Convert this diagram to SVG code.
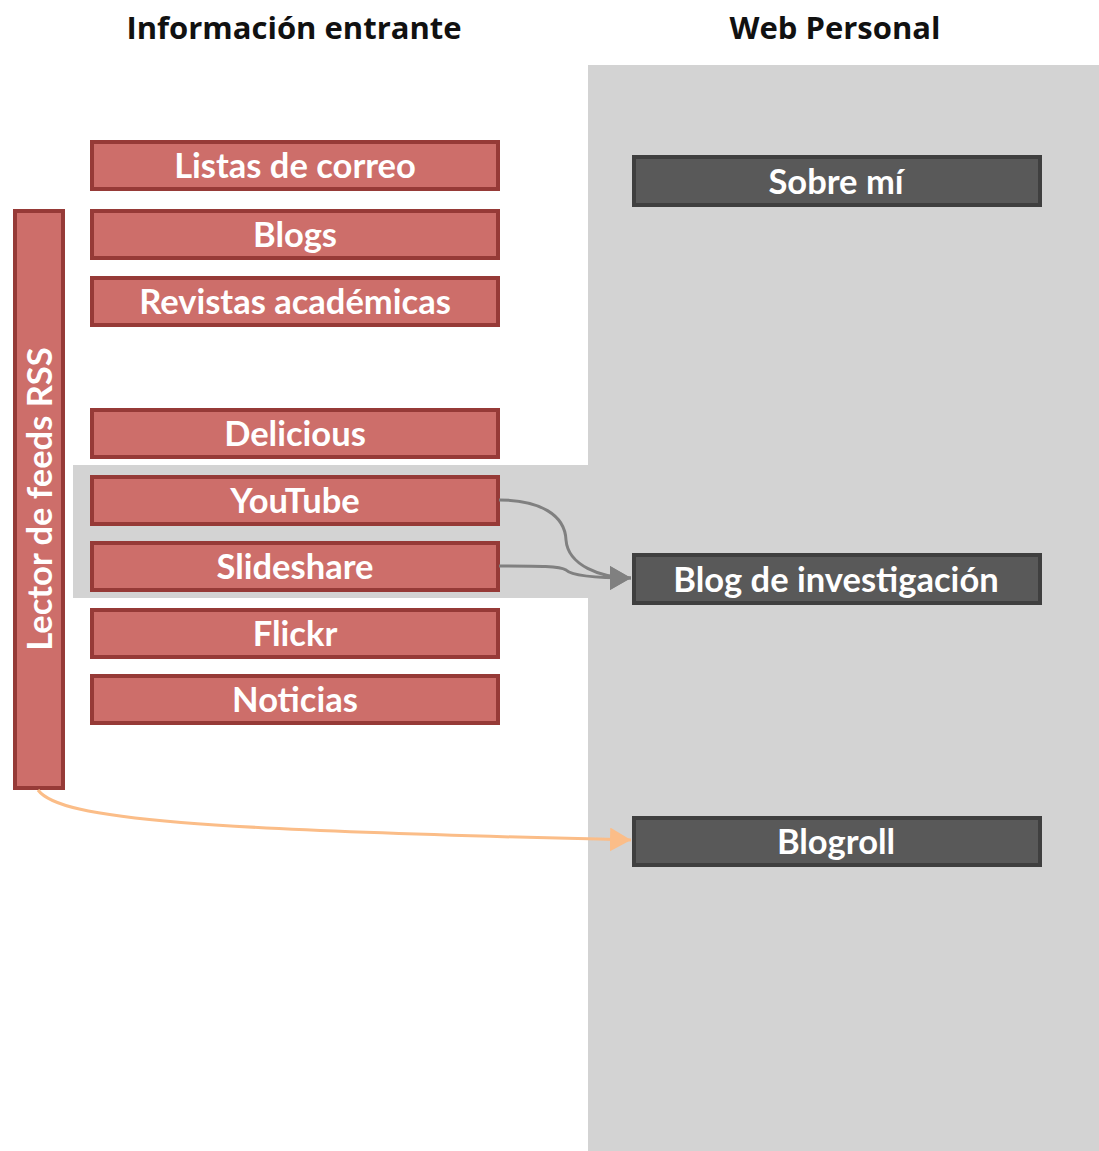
<svg xmlns="http://www.w3.org/2000/svg" width="1099" height="1151" viewBox="0 0 1099 1151">
<style>
.t{font-family:Lato,"Open Sans",sans-serif;font-weight:bold;fill:#fff;font-size:34.5px;text-anchor:middle}
.h{font-family:"Open Sans",sans-serif;font-weight:bold;fill:#111;font-size:31px;text-anchor:middle}
.r{fill:#cd6e6a;stroke:#963a37;stroke-width:4}
.d{fill:#595959;stroke:#3f3f3f;stroke-width:4}
</style>
<defs>
<marker id="ag" markerWidth="8" markerHeight="8" refX="7" refY="4" orient="auto" markerUnits="strokeWidth"><path d="M0,0 L7,4 L0,8 Z" fill="#808080"/></marker>
<marker id="ao" markerWidth="8" markerHeight="8" refX="7" refY="4" orient="auto" markerUnits="strokeWidth"><path d="M0,0 L7,4 L0,8 Z" fill="#fbbd88"/></marker>
</defs>
<rect width="1099" height="1151" fill="#fff"/>
<rect x="588" y="65" width="511" height="1086" fill="#d3d3d3"/>
<rect x="73" y="465" width="515" height="133" fill="#d3d3d3"/>
<text class="h" x="294" y="39">Información entrante</text>
<text class="h" x="835" y="39">Web Personal</text>
<g id="lector"><rect class="r" x="15" y="211" width="48" height="577"/><text class="t" transform="translate(52,499) rotate(-90)">Lector de feeds RSS</text></g>
<g id="listas"><rect class="r" x="92" y="142" width="406" height="47"/><text class="t" x="295" y="178">Listas de correo</text></g>
<g id="blogs"><rect class="r" x="92" y="211" width="406" height="47"/><text class="t" x="295" y="247">Blogs</text></g>
<g id="revistas"><rect class="r" x="92" y="278" width="406" height="47"/><text class="t" x="295" y="314">Revistas académicas</text></g>
<g id="delicious"><rect class="r" x="92" y="410" width="406" height="47"/><text class="t" x="295" y="446">Delicious</text></g>
<g id="youtube"><rect class="r" x="92" y="477" width="406" height="47"/><text class="t" x="295" y="513">YouTube</text></g>
<g id="slideshare"><rect class="r" x="92" y="543" width="406" height="47"/><text class="t" x="295" y="579">Slideshare</text></g>
<g id="flickr"><rect class="r" x="92" y="610" width="406" height="47"/><text class="t" x="295" y="646">Flickr</text></g>
<g id="noticias"><rect class="r" x="92" y="676" width="406" height="47"/><text class="t" x="295" y="712">Noticias</text></g>
<g id="sobre"><rect class="d" x="634" y="157" width="406" height="48"/><text class="t" x="836" y="194">Sobre mí</text></g>
<g id="bloginv"><rect class="d" x="634" y="555" width="406" height="48"/><text class="t" x="836" y="592">Blog de investigación</text></g>
<g id="blogroll"><rect class="d" x="634" y="818" width="406" height="47"/><text class="t" x="836" y="854">Blogroll</text></g>
<g id="connectors" fill="none">
<path d="M499,500 C540,500 565,515 566,540 C568,565 600,578 631,578" stroke="#808080" stroke-width="3" marker-end="url(#ag)"/>
<path d="M499,566 C540,566 560,566 566,570 C572,576 600,578 631,578" stroke="#808080" stroke-width="3" marker-end="url(#ag)"/>
<path d="M38,790 C60,820 200,830 631,840" stroke="#fbbd88" stroke-width="3" marker-end="url(#ao)"/>
</g>
</svg>
